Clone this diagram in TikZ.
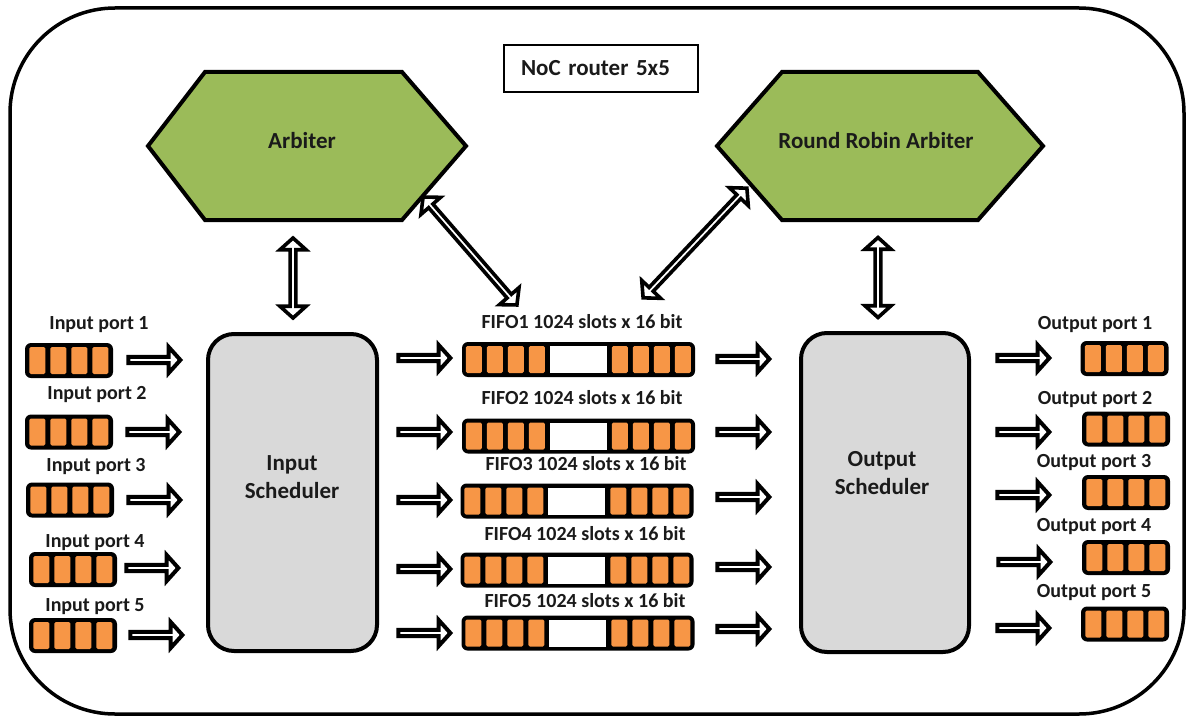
\documentclass[tikz,border=0pt]{standalone}
\usepackage{fontspec}
\setmainfont{Carlito}
\usetikzlibrary{shapes.arrows,calc}
\definecolor{arbgreen}{HTML}{9BBB59}
\definecolor{qorange}{HTML}{F79646}
\definecolor{schedgray}{HTML}{D9D9D9}
\definecolor{txt}{HTML}{1A1A1A}
\newcommand\portqueue[3]{%
  \node[qbox, minimum width=88pt, minimum height=35pt] (#1) at (#2,#3) {};
  \foreach \k in {0,1,2,3}{
    \fill[qcell] ($(#1.west)+(4.5+\k*21,-13.5)$) rectangle ++(16,27);
  }
}
\newcommand\fifoqueue[3]{%
  \node[qbox, minimum width=233pt, minimum height=35pt] (#1) at (#2,#3) {};
  \foreach \k in {0,1,2,3}{
    \fill[qcell] ($(#1.west)+(4+\k*21,-13.5)$) rectangle ++(16,27);
    \fill[qcell] ($(#1.west)+(150+\k*21,-13.5)$) rectangle ++(16,27);
  }
  \fill[white] ($(#1.west)+(88,-13.5)$) rectangle ++(57,27);
}
\begin{document}
\begin{tikzpicture}[x=1pt,y=-1pt,
  lbl/.style={font=\fontsize{20}{22}\selectfont\bfseries, text=txt, inner sep=0pt},
  big/.style={font=\fontsize{23}{28}\selectfont\bfseries, text=txt, inner sep=0pt, align=center},
  hexa/.style={draw=black, line width=4pt, fill=arbgreen, line join=miter},
  sched/.style={draw=black, line width=4pt, fill=schedgray, rounded corners=26pt, inner sep=0pt},
  qbox/.style={fill=black, rounded corners=6pt, inner sep=0pt, draw=none},
  qcell/.style={fill=qorange, rounded corners=1.5pt},
  harrow/.style={single arrow, draw=black, fill=white, line width=4pt, minimum height=52pt, minimum width=26pt, single arrow head extend=6.5pt, inner sep=0pt, single arrow tip angle=96},
  darrow/.style={double arrow, draw=black, fill=white, line width=3.6pt, minimum width=26pt, double arrow head extend=6.5pt, inner sep=0pt, double arrow tip angle=96},
]
\useasboundingbox (0,0) rectangle (1189,717);
\fill[white] (0,0) rectangle (1189,717);
% outer frame
\draw[line width=3.5pt, rounded corners=105pt] (10,8) rectangle (1184,714);
% title
\node[draw=black, line width=1.8pt, minimum width=194pt, minimum height=47pt, big, align=left, text width=160pt] (title) at (601,68.5) {NoC router 5x5};
% arbiters
\draw[hexa] (148,146) -- (205,72) -- (402,72) -- (466,146) -- (402,220) -- (205,220) -- cycle;
\node[big] (arb) at (302,141) {Arbiter};
\draw[hexa] (717,146) -- (782,72) -- (978,72) -- (1043,146) -- (978,220) -- (782,220) -- cycle;
\node[big] (rrarb) at (876,141) {Round Robin Arbiter};
% schedulers
\node[sched, minimum width=169pt, minimum height=317pt] (isched) at (292.5,492.5) {};
\node[big] (ischedlbl) at (292,477) {Input\\Scheduler};
\node[sched, minimum width=168pt, minimum height=319pt] (osched) at (885,492.5) {};
\node[big] (oschedlbl) at (882,473) {Output\\Scheduler};
% input ports
\node[lbl] (ip1) at (99,325) {Input port 1};
\node[lbl] (ip2) at (97,395) {Input port 2};
\node[lbl] (ip3) at (96,467) {Input port 3};
\node[lbl] (ip4) at (95,543) {Input port 4};
\node[lbl] (ip5) at (95,607) {Input port 5};
\portqueue{iq1}{69}{360.5}
\portqueue{iq2}{69}{432}
\portqueue{iq3}{70}{500}
\portqueue{iq4}{73}{569.5}
\portqueue{iq5}{73}{635.5}
% output ports
\node[lbl] (op1) at (1095,325) {Output port 1};
\node[lbl] (op2) at (1095,400) {Output port 2};
\node[lbl] (op3) at (1094,463) {Output port 3};
\node[lbl] (op4) at (1094,527) {Output port 4};
\node[lbl] (op5) at (1094,593) {Output port 5};
\portqueue{oq1}{1124.5}{358.5}
\portqueue{oq2}{1126}{429}
\portqueue{oq3}{1126}{492.5}
\portqueue{oq4}{1126}{557.5}
\portqueue{oq5}{1125}{624}
% FIFOs
\node[lbl] (fl1) at (582,322) {FIFO1 1024 slots x 16 bit};
\node[lbl] (fl2) at (582,398) {FIFO2 1024 slots x 16 bit};
\node[lbl] (fl3) at (586,464) {FIFO3 1024 slots x 16 bit};
\node[lbl] (fl4) at (585,534) {FIFO4 1024 slots x 16 bit};
\node[lbl] (fl5) at (585,601) {FIFO5 1024 slots x 16 bit};
\fifoqueue{f1}{578.5}{359.5}
\fifoqueue{f2}{578.5}{436}
\fifoqueue{f3}{577}{501}
\fifoqueue{f4}{577}{570}
\fifoqueue{f5}{578}{633}
% arrows: input ports -> input scheduler
\node[harrow] (ia1) at (153,360) {};
\node[harrow] (ia2) at (152,432) {};
\node[harrow] (ia3) at (153,500) {};
\node[harrow] (ia4) at (151,568) {};
\node[harrow] (ia5) at (155,635) {};
% input scheduler -> FIFOs
\node[harrow] (fa1) at (423,358) {};
\node[harrow] (fa2) at (423,432) {};
\node[harrow] (fa3) at (423,500) {};
\node[harrow] (fa4) at (423,569) {};
\node[harrow] (fa5) at (423,633) {};
% FIFOs -> output scheduler
\node[harrow] (ga1) at (742,359) {};
\node[harrow] (ga2) at (742,432) {};
\node[harrow] (ga3) at (742,497) {};
\node[harrow] (ga4) at (742,567) {};
\node[harrow] (ga5) at (742,629) {};
% output scheduler -> output ports
\node[harrow] (oa1) at (1022,358) {};
\node[harrow] (oa2) at (1022,432) {};
\node[harrow] (oa3) at (1022,495) {};
\node[harrow] (oa4) at (1023,562) {};
\node[harrow] (oa5) at (1022,628) {};
% bidirectional arrows
\node[darrow, minimum height=80pt, rotate=90] (v1) at (293,278) {};
\node[darrow, minimum height=80pt, rotate=90] (v2) at (878,277.5) {};
\node[darrow, minimum height=143pt, rotate=-49] (d1) at (470,251) {};
\node[darrow, minimum height=151pt, rotate=46.6] (d2) at (695,243) {};
\end{tikzpicture}
\end{document}
